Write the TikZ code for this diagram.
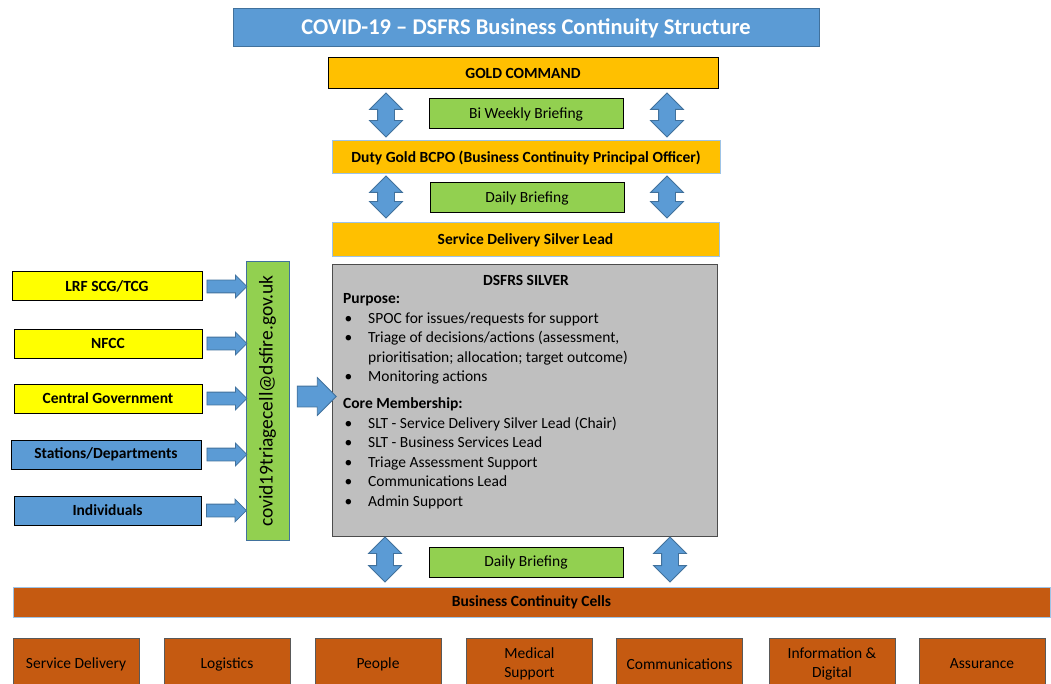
\documentclass[tikz,border=0pt]{standalone}
\usepackage{fontspec}
\setmainfont{Carlito}
\usetikzlibrary{positioning, shapes.arrows}

\definecolor{dsblue}{HTML}{5B9BD5}
\definecolor{dsdarkblue}{HTML}{41719C}
\definecolor{dslightblue}{HTML}{9DC3E6}
\definecolor{dsgold}{HTML}{FFC000}
\definecolor{dsgreen}{HTML}{92D050}
\definecolor{dsyellow}{HTML}{FFFF00}
\definecolor{dsgrey}{HTML}{BFBFBF}
\definecolor{dsorange}{HTML}{C55A11}

% bullet with hanging indent for the silver list
\newcommand\silveritem{\hspace*{1.5pt}\makebox[23.5pt][l]{\textbullet}}

\begin{document}
\begin{tikzpicture}[
  x=1pt, y=-1pt,
  block/.style = {draw, line width=1pt, inner sep=0pt, align=center,
                  font=\fontsize{15.5}{19}\selectfont},
  goldbox/.style = {block, fill=dsgold, font=\bfseries\fontsize{15.5}{18}\selectfont},
  brief/.style = {block, fill=dsgreen, minimum width=194, minimum height=30},
  source/.style = {block, minimum width=188, minimum height=29,
                   font=\bfseries\fontsize{15.5}{18}\selectfont},
  cell/.style = {block, draw=black!65, fill=dsorange, minimum width=126, minimum height=52,
                 font=\fontsize{15.5}{19}\selectfont},
  updown/.style = {double arrow, rotate=90, fill=dsblue, draw=dsdarkblue, line width=0.8pt,
                   inner sep=8pt, double arrow head extend=8pt},
  feed/.style = {single arrow, fill=dsblue, draw=dsdarkblue, line width=0.8pt,
                 inner sep=6pt, single arrow head extend=5pt, minimum height=40}
]
  \useasboundingbox (0,0) rectangle (1051,684);
  \clip (0,0) rectangle (1051,684);

  % Title
  \node[block, draw=dsdarkblue, fill=dsblue, minimum width=586, minimum height=38,
        text=white, font=\bfseries\fontsize{22.5}{26}\selectfont] (title) at (526,28)
    {COVID-19 -- DSFRS Business Continuity Structure};

  % Gold levels
  \node[goldbox, minimum width=390, minimum height=31] (gold) at (523,73.5) {GOLD COMMAND};
  \node[brief] (biweekly) at (526,114) {Bi Weekly Briefing};
  \node[goldbox, draw=dslightblue, minimum width=388, minimum height=33] (duty) at (526,157.5)
    {Duty Gold BCPO (Business Continuity Principal Officer)};
  \node[brief] (daily1) at (527,198) {Daily Briefing};
  \node[goldbox, draw=dslightblue, minimum width=387, minimum height=34] (sdsl) at (525.5,240)
    {Service Delivery Silver Lead};

  % two way briefing arrows
  \node[updown, minimum height=44] (gold_l) at (386,115) {};
  \node[updown, minimum height=44] (gold_r) at (667,115) {};
  \node[updown, minimum height=42] (duty_l) at (386,197) {};
  \node[updown, minimum height=42] (duty_r) at (667,197) {};

  % Silver cell
  \node[block, draw=black!70, fill=dsgrey, minimum width=385, minimum height=271] (silver)
    at (524.5,400.5) {};
  \node[anchor=base, font=\bfseries\fontsize{15.5}{19.5}\selectfont] (silvertitle)
    at (526,286) {DSFRS SILVER};
  \node[anchor=north west, inner sep=0pt, align=left, font=\fontsize{15.5}{19.5}\selectfont]
    (silvertext) at (343,293.5) {
      \textbf{Purpose:}\\
      \silveritem SPOC for issues/requests for support\\
      \silveritem Triage of decisions/actions (assessment,\\
      \hspace*{25pt}prioritisation; allocation; target outcome)\\
      \silveritem Monitoring actions\\[7.5pt]
      \textbf{Core Membership:}\\
      \silveritem SLT - Service Delivery Silver Lead (Chair)\\
      \silveritem SLT - Business Services Lead\\
      \silveritem Triage Assessment Support\\
      \silveritem Communications Lead\\
      \silveritem Admin Support
    };

  % Sources feeding the triage mailbox
  \node[source, fill=dsyellow, minimum width=190] (lrf) at (107,286.5) {LRF SCG/TCG};
  \node[source, fill=dsyellow] (nfcc) at (108,343.5) {NFCC};
  \node[source, fill=dsyellow] (central) at (108,398.5) {Central Government};
  \node[source, fill=dsblue, minimum width=190] (stations) at (106,454.5) {Stations/Departments};
  \node[source, fill=dsblue, minimum width=187] (indiv) at (107.5,510.5) {Individuals};

  \node[block, draw=dsdarkblue, fill=dsgreen, rotate=90, minimum width=278, minimum height=43,
        font=\fontsize{19.5}{22}\selectfont] (mailbox) at (267.5,401)
    {covid19triagecell@dsfire.gov.uk};

  \node[feed, right=4 of lrf] (lrf_in) {};
  \node[feed, right=4 of nfcc] (nfcc_in) {};
  \node[feed, right=4 of central] (central_in) {};
  \node[feed, right=5 of stations] (stations_in) {};
  \node[feed, right=4.5 of indiv] (indiv_in) {};

  % mailbox -> silver
  \node[single arrow, fill=dsblue, draw=dsdarkblue, line width=0.8pt, inner sep=10pt,
        single arrow head extend=8.5pt, minimum height=39] (to_silver) at (311.5,396.5) {};

  % Business continuity cells
  \node[updown, minimum height=45] (cells_l) at (385,559.5) {};
  \node[updown, minimum height=45] (cells_r) at (670,559.5) {};
  \node[brief] (daily2) at (526,562) {Daily Briefing};
  \node[block, draw=dslightblue, fill=dsorange, minimum width=1037, minimum height=30,
        font=\bfseries\fontsize{15.5}{18}\selectfont] (cells) at (531.5,602)
    {Business Continuity Cells};

  \node[cell] (delivery) at (76,664) {Service Delivery};
  \node[cell] (logistics) at (227,664) {Logistics};
  \node[cell] (people) at (378,664) {People};
  \node[cell] (medical) at (529.5,664) {Medical\\Support};
  \node[cell] (comms) at (679.5,664) {Communications};
  \node[cell] (digital) at (832,664) {Information \&\\Digital};
  \node[cell] (assurance) at (982,664) {Assurance};

\end{tikzpicture}
\end{document}
